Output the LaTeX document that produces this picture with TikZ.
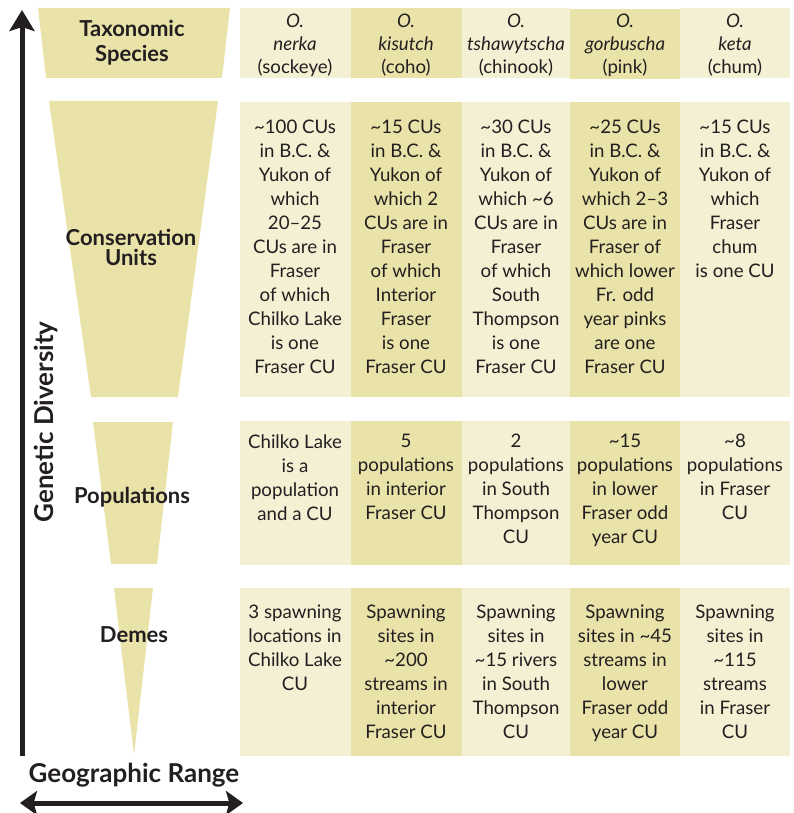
\documentclass[tikz,border=0pt]{standalone}
\usepackage{fontspec}
\setmainfont{Lato}
\usetikzlibrary{arrows.meta}

\definecolor{paleband}{HTML}{F4F0D3}
\definecolor{darkband}{HTML}{EAE3A9}
\definecolor{ink}{HTML}{231F20}

\tikzset{
  celltext/.style={font=\fontsize{14}{18}\selectfont, text=ink, inner sep=0pt, align=center, anchor=north, execute at begin node=\strut},
  headtext/.style={celltext, font=\fontsize{14}{17}\selectfont},
  leveltext/.style={font=\bfseries\fontsize{16.5}{18}\selectfont, text=ink, inner sep=0pt, align=center},
  axistext/.style={font=\bfseries\fontsize{19.5}{21}\selectfont, text=ink, inner sep=0pt},
}

\begin{document}
\begin{tikzpicture}[x=0.75pt,y=0.75pt,yscale=-1,xscale=1]
\useasboundingbox (0,0) rectangle (793,813);

%Shape: Trapezoids (levels)
\fill[darkband] (38,8) -- (230,8) -- (222,78) -- (46,78) -- cycle ;
\fill[darkband] (49,101) -- (218,101) -- (178,397) -- (91,397) -- cycle ;
\fill[darkband] (93,422) -- (173,422) -- (157,564) -- (111,564) -- cycle ;
\fill[darkband] (114,588) -- (153,588) -- (134,755) -- cycle ;

%Shape: Column bands, row 1
\fill[paleband] (240,8) rectangle (351,78) ;
\fill[darkband] (351,8) rectangle (462,78) ;
\fill[paleband] (462,8) rectangle (570,78) ;
\fill[darkband] (570,9) rectangle (680,79) ;
\fill[paleband] (680,8) rectangle (790,78) ;
%Shape: Column bands, row 2
\fill[paleband] (240,102) rectangle (351,397) ;
\fill[darkband] (351,102) rectangle (462,397) ;
\fill[paleband] (462,102) rectangle (570,397) ;
\fill[darkband] (570,102) rectangle (680,397) ;
\fill[paleband] (680,102) rectangle (790,397) ;
%Shape: Column bands, row 3
\fill[paleband] (240,421) rectangle (351,565) ;
\fill[darkband] (351,421) rectangle (462,565) ;
\fill[paleband] (462,421) rectangle (570,565) ;
\fill[darkband] (570,421) rectangle (680,565) ;
\fill[paleband] (680,421) rectangle (790,565) ;
%Shape: Column bands, row 4
\fill[paleband] (240,588) rectangle (351,756) ;
\fill[darkband] (351,588) rectangle (462,756) ;
\fill[paleband] (462,588) rectangle (570,756) ;
\fill[darkband] (570,588) rectangle (680,756) ;
\fill[paleband] (680,588) rectangle (790,756) ;

%Straight Lines: axes
\coordinate (divbottom) at (22,756);
\coordinate (divtop) at (22,10);
\coordinate (rangeleft) at (20,803);
\coordinate (rangeright) at (243,803);
\draw [draw=ink, line width=3.75pt, -{Stealth[length=15.75pt,width=18.75pt,inset=3pt]}] (divbottom) -- (divtop) ;
\draw [draw=ink, line width=3.75pt, {Stealth[length=12.75pt,width=18pt,inset=2.5pt]}-{Stealth[length=12.75pt,width=18pt,inset=2.5pt]}] (rangeleft) -- (rangeright) ;

% Text Node: axis labels
\node (diversity) [axistext, rotate=90, anchor=base] at (53,422) {Genetic Diversity};
\node (range) [axistext, anchor=base] at (134,782) {Geographic Range};

% Text Node: level labels
\node (species) [leveltext, anchor=north, font=\bfseries\fontsize{16.5}{18.75}\selectfont, execute at begin node=\strut] at (132,20) {Taxonomic\\Species};
\node (units) [leveltext, anchor=north, font=\bfseries\fontsize{16.5}{15}\selectfont, execute at begin node=\strut] at (131,229) {Conservation\\Units};
\node (populations) [leveltext, anchor=base] at (132,503) {Populations};
\node (demes) [leveltext, anchor=base] at (134,642) {Demes};

% Text Node: row 1
\node (sockeyehead) [headtext] at (295,14) {\textit{O.}\\\textit{nerka}\\(sockeye)};
\node (cohohead) [headtext] at (406,14) {\textit{O.}\\\textit{kisutch}\\(coho)};
\node (chinookhead) [headtext] at (516,14) {\textit{O.}\\\textit{tshawytscha}\\(chinook)};
\node (pinkhead) [headtext] at (625,14) {\textit{O.}\\\textit{gorbuscha}\\(pink)};
\node (chumhead) [headtext] at (735,14) {\textit{O.}\\\textit{keta}\\(chum)};

% Text Node: row 2
\node (sockeyecu) [celltext] at (295,120) {\textasciitilde100 CUs\\in B.C. \&\\Yukon of\\which\\20--25\\CUs are in\\Fraser\\of which\\Chilko Lake\\is one\\Fraser CU};
\node (cohocu) [celltext] at (406,120) {\textasciitilde15 CUs\\in B.C. \&\\Yukon of\\which 2\\CUs are in\\Fraser\\of which\\Interior\\Fraser\\is one\\Fraser CU};
\node (chinookcu) [celltext] at (516,120) {\textasciitilde30 CUs\\in B.C. \&\\Yukon of\\which \textasciitilde6\\CUs are in\\Fraser\\of which\\South\\Thompson\\is one\\Fraser CU};
\node (pinkcu) [celltext] at (625,120) {\textasciitilde25 CUs\\in B.C. \&\\Yukon of\\which 2--3\\CUs are in\\Fraser of\\which lower\\Fr. odd\\year pinks\\are one\\Fraser CU};
\node (chumcu) [celltext] at (735,120) {\textasciitilde15 CUs\\in B.C. \&\\Yukon of\\which\\Fraser\\chum\\is one CU};

% Text Node: row 3
\node (sockeyepop) [celltext] at (295,434) {Chilko Lake\\is a\\population\\and a CU};
\node (cohopop) [celltext] at (406,434) {5\\populations\\in interior\\Fraser CU};
\node (chinookpop) [celltext] at (516,434) {2\\populations\\in South\\Thompson\\CU};
\node (pinkpop) [celltext] at (625,434) {\textasciitilde15\\populations\\in lower\\Fraser odd\\year CU};
\node (chumpop) [celltext] at (735,434) {\textasciitilde8\\populations\\in Fraser\\CU};

% Text Node: row 4
\node (sockeyedeme) [celltext] at (295,605) {3 spawning\\locations in\\Chilko Lake\\CU};
\node (cohodeme) [celltext] at (406,605) {Spawning\\sites in\\\textasciitilde200\\streams in\\interior\\Fraser CU};
\node (chinookdeme) [celltext] at (516,605) {Spawning\\sites in\\\textasciitilde15 rivers\\in South\\Thompson\\CU};
\node (pinkdeme) [celltext] at (625,605) {Spawning\\sites in \textasciitilde45\\streams in\\lower\\Fraser odd\\year CU};
\node (chumdeme) [celltext] at (735,605) {Spawning\\sites in\\\textasciitilde115\\streams\\in Fraser\\CU};

\end{tikzpicture}
\end{document}
